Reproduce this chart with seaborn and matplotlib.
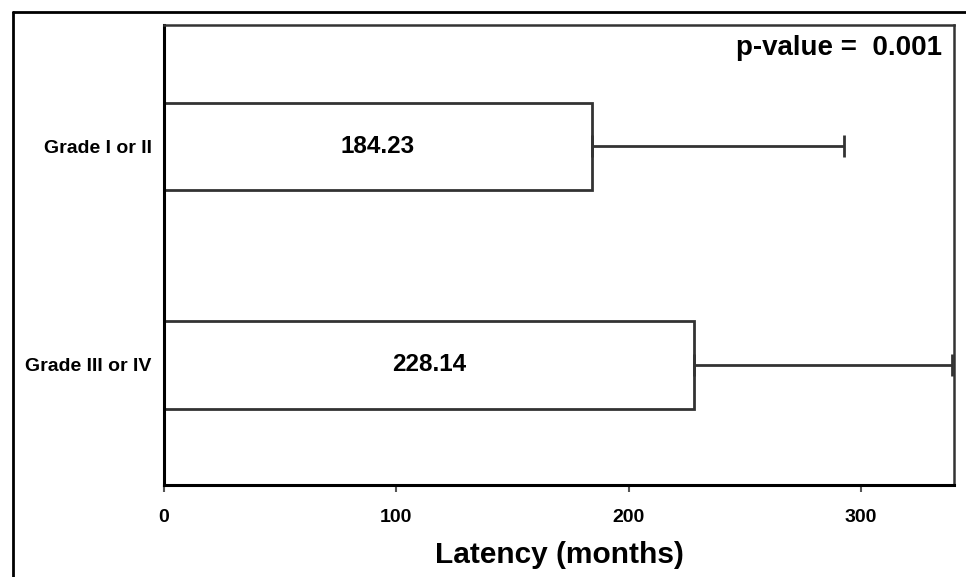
import numpy as np
import pandas as pd
import matplotlib
matplotlib.use('Agg')
import matplotlib.pyplot as plt
import seaborn as sns
from matplotlib.lines import Line2D

# datos
grades = ['Grade I or II', 'Grade III or IV']
latency = [184.23, 228.14]
latency_sd = [108.3, 110.9]
x_ticks = [0, 100, 200, 300]
p_text = 'p-value =  0.001'

df = pd.DataFrame({'grade': grades, 'latency': latency})

sns.set_style('white')
plt.rcParams['font.family'] = ['Liberation Sans', 'DejaVu Sans']
plt.rcParams['font.weight'] = 'bold'
plt.rcParams['text.color'] = 'black'
plt.rcParams['axes.labelcolor'] = 'black'
plt.rcParams['xtick.labelcolor'] = 'black'
plt.rcParams['ytick.labelcolor'] = 'black'

fig = plt.figure(figsize=(9.66, 5.77), dpi=100)
ax = fig.add_axes([164 / 966, 1 - 485 / 577, 790 / 966, 460 / 577])

edge = '#333333'
sns.barplot(data=df, x='latency', y='grade', orient='h', width=0.4,
            color='white', edgecolor=edge, linewidth=2, ax=ax)

# barras de error solo hacia la derecha
pos = np.arange(len(grades))
ax.errorbar(df['latency'], pos, xerr=[np.zeros(len(pos)), latency_sd],
            fmt='none', ecolor=edge, elinewidth=2, capsize=8, capthick=2,
            clip_on=False, zorder=3)

# etiquetas dentro de las barras
for p, v in zip(pos, latency):
    ax.text(v / 2, p, f'{v:.2f}', ha='center', va='center',
            fontsize=17.5, fontweight='bold', color='black')

ax.text(0.985, 0.95, p_text, transform=ax.transAxes, ha='right', va='center',
        fontsize=20, fontweight='bold', color='black')

ax.set_xlim(0, 340)
ax.set_ylim(1.55, -0.555)
ax.set_xticks(x_ticks)
ax.set_xticklabels([str(t) for t in x_ticks], fontsize=14, fontweight='bold')
ax.set_yticks(pos)
ax.set_yticklabels(grades, fontsize=14, fontweight='bold')
ax.tick_params(axis='x', length=5, width=1.5, color='#555555', pad=12,
               bottom=True, labelcolor='black')
ax.tick_params(axis='y', length=0, pad=9, labelcolor='black')
ax.set_xlabel('Latency (months)', fontsize=21.5, fontweight='bold',
              labelpad=11, color='black')
ax.set_ylabel('')

for s in ax.spines.values():
    s.set_visible(True)
    s.set_color(edge)
    s.set_linewidth(1.8)
ax.spines['left'].set_color('black')
ax.spines['left'].set_linewidth(2.2)
ax.spines['bottom'].set_color('black')
ax.spines['bottom'].set_linewidth(2.2)

# marco exterior (solo arriba e izquierda)
fig.add_artist(Line2D([13 / 966, 13 / 966], [0, 1 - 12 / 577],
                      color='black', linewidth=2))
fig.add_artist(Line2D([13 / 966, 1], [1 - 12 / 577, 1 - 12 / 577],
                      color='black', linewidth=2))

fig.savefig('out.png', dpi=100, facecolor='white')
plt.close(fig)
